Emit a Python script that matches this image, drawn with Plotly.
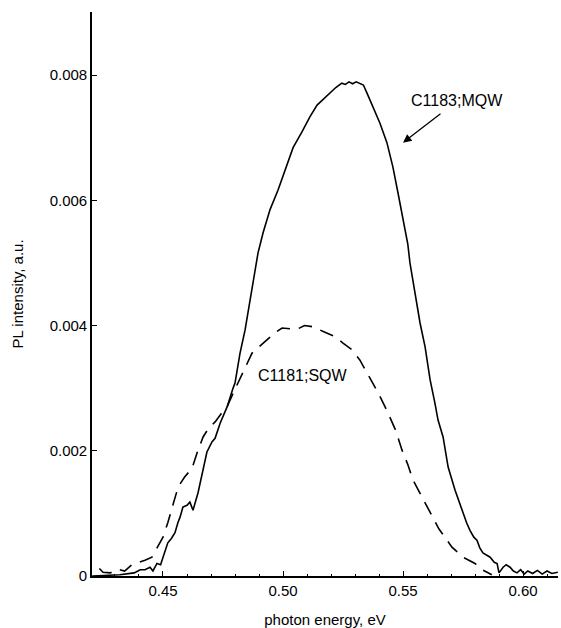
import plotly.graph_objects as go

# MQW (solid) curve
mqw_x = [0.4205, 0.4320, 0.4380, 0.4405, 0.4425, 0.4446, 0.4458, 0.4475, 0.4490, 0.4500,
         0.4510, 0.4520, 0.4535, 0.4550, 0.4562, 0.4571, 0.4583, 0.4600, 0.4612, 0.4625,
         0.4646, 0.4667, 0.4683, 0.4704, 0.4717, 0.4738, 0.4767, 0.4792, 0.4800, 0.4821,
         0.4842, 0.4863, 0.4883, 0.4896, 0.4917, 0.4946, 0.4979, 0.5008, 0.5042, 0.5079,
         0.5112, 0.5142, 0.5170, 0.5196, 0.5220, 0.5245, 0.5260, 0.5275, 0.5290, 0.5305,
         0.5320, 0.5335, 0.5350, 0.5375, 0.5404, 0.5433, 0.5458, 0.5479, 0.5500, 0.5520,
         0.5529, 0.5550, 0.5571, 0.5592, 0.5613, 0.5633, 0.5646, 0.5667, 0.5688, 0.5717,
         0.5746, 0.5765, 0.5779, 0.5795, 0.5808, 0.5820, 0.5833, 0.5850, 0.5863, 0.5880,
         0.5892, 0.5900, 0.5917, 0.5930, 0.5946, 0.5960, 0.5975, 0.5990, 0.6005, 0.6020,
         0.6040, 0.6060, 0.6080, 0.6100, 0.6120, 0.6145]
mqw_y = [0.00000, 0.00002, 0.00005, 0.00010, 0.00010, 0.00014, 0.00008, 0.00020, 0.00018, 0.00030,
         0.00042, 0.00053, 0.00060, 0.00069, 0.00085, 0.00094, 0.00110, 0.00113, 0.00118, 0.00105,
         0.00133, 0.00169, 0.00198, 0.00214, 0.00220, 0.00244, 0.00270, 0.00300, 0.00308, 0.00356,
         0.00393, 0.00441, 0.00484, 0.00516, 0.00548, 0.00585, 0.00616, 0.00648, 0.00684, 0.00709,
         0.00733, 0.00752, 0.00762, 0.00771, 0.00780, 0.00787, 0.00785, 0.00789, 0.00786, 0.00789,
         0.00787, 0.00784, 0.00771, 0.00749, 0.00723, 0.00692, 0.00653, 0.00612, 0.00569, 0.00530,
         0.00500, 0.00452, 0.00404, 0.00366, 0.00313, 0.00276, 0.00249, 0.00222, 0.00174, 0.00137,
         0.00105, 0.00085, 0.00073, 0.00062, 0.00057, 0.00045, 0.00037, 0.00033, 0.00030, 0.00022,
         0.00020, 0.00005, 0.00014, 0.00018, 0.00014, 0.00008, 0.00005, 0.00010, 0.00003, 0.00008,
         0.00004, 0.00009, 0.00003, 0.00008, 0.00004, 0.00006]

# SQW (dashed) curve
sqw_x = [0.4235, 0.4250, 0.4280, 0.4312, 0.4340, 0.4370, 0.4400, 0.4425, 0.4454, 0.4480,
         0.4500, 0.4520, 0.4545, 0.4563, 0.4590, 0.4621, 0.4645, 0.4667, 0.4690, 0.4717,
         0.4740, 0.4767, 0.4790, 0.4813, 0.4840, 0.4871, 0.4900, 0.4933, 0.4965, 0.4996,
         0.5025, 0.5058, 0.5090, 0.5125, 0.5170, 0.5217, 0.5250, 0.5288, 0.5320, 0.5350,
         0.5362, 0.5400, 0.5438, 0.5470, 0.5496, 0.5520, 0.5542, 0.5580, 0.5613, 0.5650,
         0.5704, 0.5750, 0.5800, 0.5830, 0.5870]
sqw_y = [0.00012, 0.00006, 0.00005, 0.00011, 0.00008, 0.00018, 0.00022, 0.00025, 0.00030, 0.00048,
         0.00062, 0.00085, 0.00120, 0.00142, 0.00158, 0.00172, 0.00200, 0.00222, 0.00236, 0.00246,
         0.00258, 0.00270, 0.00290, 0.00308, 0.00330, 0.00356, 0.00366, 0.00377, 0.00388, 0.00396,
         0.00395, 0.00394, 0.00400, 0.00398, 0.00390, 0.00382, 0.00372, 0.00361, 0.00345, 0.00324,
         0.00318, 0.00290, 0.00260, 0.00232, 0.00201, 0.00178, 0.00153, 0.00125, 0.00101, 0.00075,
         0.00046, 0.00030, 0.00020, 0.00010, 0.00002]

x_tickvals = [0.45, 0.50, 0.55, 0.60]
x_ticktext = ["0.45", "0.50", "0.55", "0.60"]
y_tickvals = [0, 0.002, 0.004, 0.006, 0.008]
y_ticktext = ["0", "0.002", "0.004", "0.006", "0.008"]

FONT = "Liberation Sans, Arial, Helvetica, sans-serif"

fig = go.Figure()
fig.add_trace(go.Scatter(x=mqw_x, y=mqw_y, mode="lines", name="C1183;MQW",
                         line=dict(color="black", width=1.6)))
fig.add_trace(go.Scatter(x=sqw_x, y=sqw_y, mode="lines", name="C1181;SQW",
                         line=dict(color="black", width=1.6, dash="14px,9px")))

fig.add_annotation(x=0.5725, y=0.00759, text="C1183;MQW", showarrow=False,
                   font=dict(family=FONT, size=16, color="black"))
fig.add_annotation(x=0.55, y=0.00692, text="", showarrow=True, ax=39, ay=-30,
                   arrowhead=2, arrowsize=1.3, arrowwidth=1.3, arrowcolor="black",
                   standoff=0, startstandoff=0)
fig.add_annotation(x=0.5083, y=0.003194, text="C1181;SQW", showarrow=False,
                   font=dict(family=FONT, size=16, color="black"))

fig.update_layout(
    width=561, height=628,
    margin=dict(l=92, r=3, t=12, b=52),
    paper_bgcolor="white", plot_bgcolor="white",
    showlegend=False,
    font=dict(family=FONT, size=15, color="black"),
    xaxis=dict(range=[0.42042, 0.61458], tickvals=x_tickvals, ticktext=x_ticktext,
               ticks="inside", ticklen=5, tickwidth=1.3, tickcolor="black",
               minor=dict(dtick=0.01, tick0=0.42, ticks="inside", ticklen=2, tickwidth=1, tickcolor="black"),
               showline=True, linecolor="black", linewidth=1.6, showgrid=False, zeroline=False,
               title=dict(text="photon energy, eV", font=dict(size=15), standoff=17)),
    yaxis=dict(range=[0, 0.009006], tickvals=y_tickvals, ticktext=y_ticktext,
               ticks="inside", ticklen=5, tickwidth=1.3, tickcolor="black",
               showline=True, linecolor="black", linewidth=1.6, showgrid=False, zeroline=False,
               title=dict(text="PL intensity, a.u.", font=dict(size=15), standoff=22)),
)

fig.write_html("out.html")
